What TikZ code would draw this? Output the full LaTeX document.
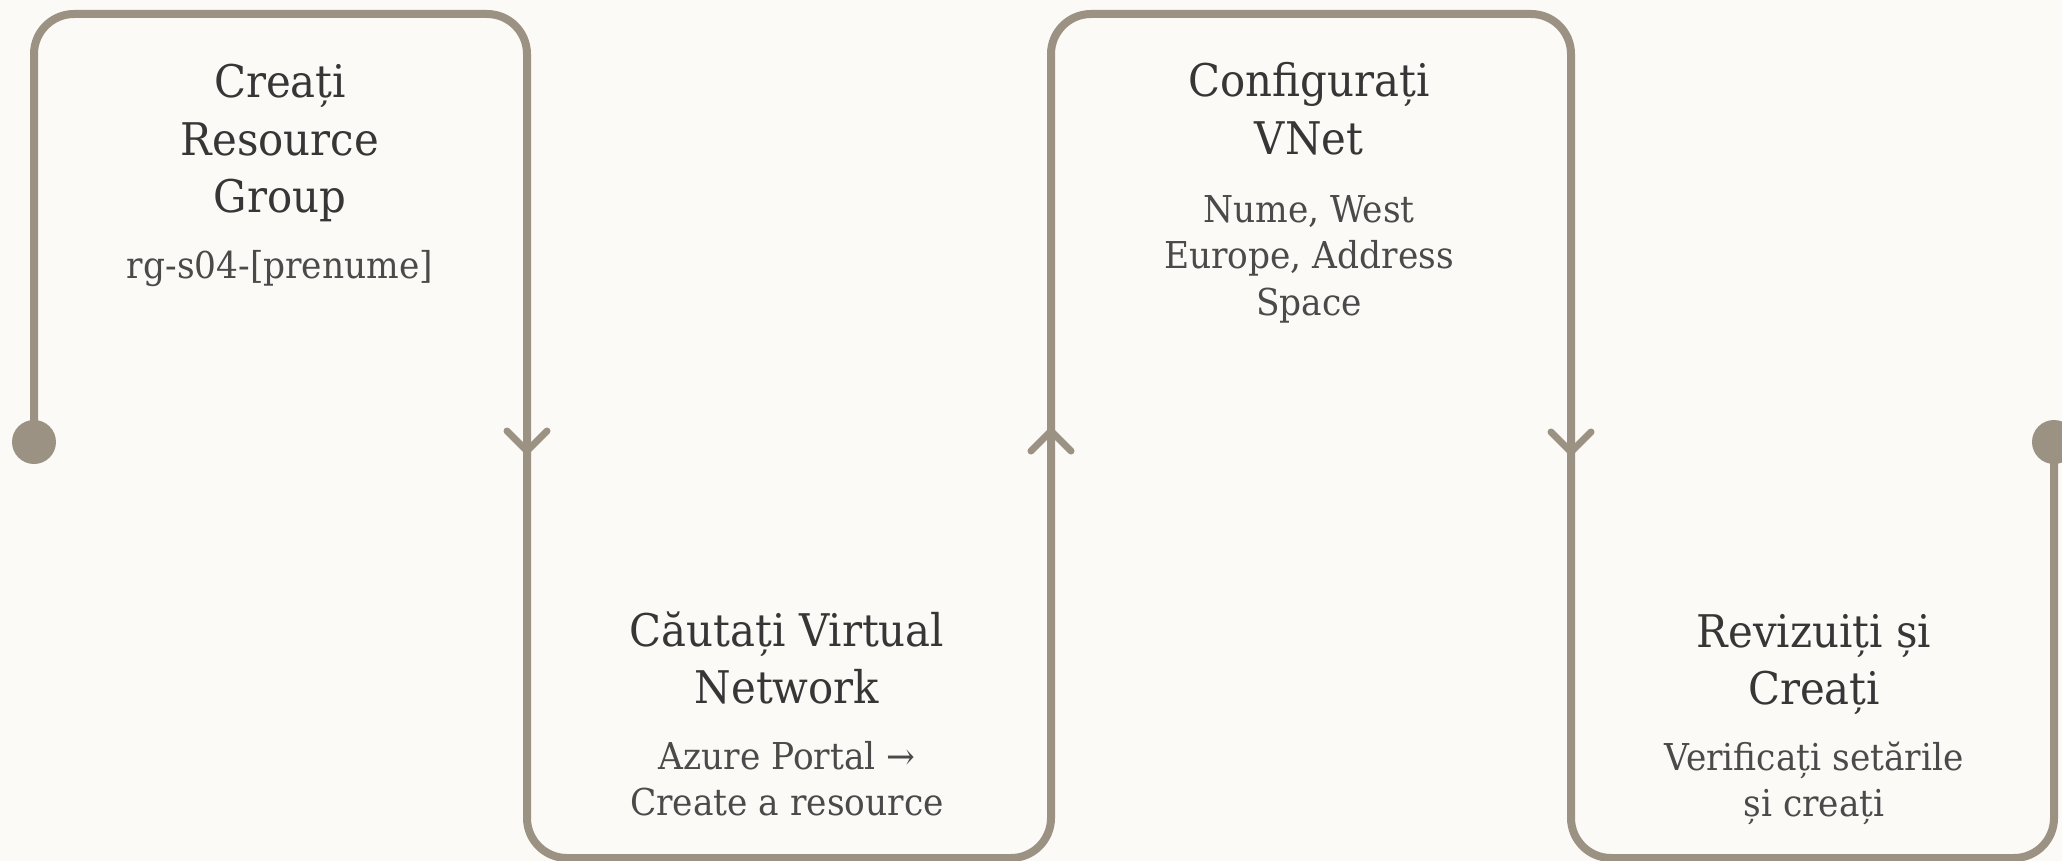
\documentclass[tikz,border=0pt]{standalone}
\usepackage{fontspec}
\setmainfont{DejaVu Serif}[FakeStretch=0.93]
\definecolor{trackc}{HTML}{9C9283}
\definecolor{paper}{HTML}{FBFAF7}
\definecolor{headink}{HTML}{363636}
\definecolor{bodyink}{HTML}{4A4A4A}
\tikzset{
  track/.style={draw=trackc, line width=8pt, rounded corners=40pt},
  chev/.style={draw=trackc, line width=7pt, line cap=round},
  enddot/.style={fill=trackc},
  % multi-line nodes: the base anchor sits on the last line
  head/.style={font=\fontsize{45}{57.5}\selectfont, text=headink, align=center, inner sep=0pt, anchor=base},
  body/.style={font=\fontsize{37}{46.5}\selectfont, text=bodyink, align=center, inner sep=0pt, anchor=base},
}
\begin{document}
\begin{tikzpicture}[x=1pt, y=-1pt]
  % page
  \fill[paper] (0,0) rectangle (2062,861);
  \useasboundingbox (0,0) rectangle (2062,861);

  % turning points of the serpentine track
  \coordinate (start) at (34,442);
  \coordinate (c1) at (34,14);
  \coordinate (c2) at (527,14);
  \coordinate (c3) at (527,858);
  \coordinate (c4) at (1051,858);
  \coordinate (c5) at (1051,14);
  \coordinate (c6) at (1571,14);
  \coordinate (c7) at (1571,858);
  \coordinate (c8) at (2054,858);
  \coordinate (finish) at (2054,442);

  \draw[track] (start) -- (c1) -- (c2) -- (c3) -- (c4) -- (c5) -- (c6) -- (c7) -- (c8) -- (finish);

  \fill[enddot] (start) circle[radius=22];
  \fill[enddot] (finish) circle[radius=22];

  % direction marks on the vertical runs
  \coordinate (d1) at (527,451);
  \coordinate (d2) at (1051,431);
  \coordinate (d3) at (1571,452);
  \draw[chev] ([shift={(-20,-20)}]d1) -- (d1) -- ([shift={(20,-20)}]d1);
  \draw[chev] ([shift={(-20,20)}]d2) -- (d2) -- ([shift={(20,20)}]d2);
  \draw[chev] ([shift={(-20,-20)}]d3) -- (d3) -- ([shift={(20,-20)}]d3);

  % step 1
  \node[head] (h1) at (280,213) {Creați\\Resource\\Group};
  \node[body] (b1) at (280,279) {rg-s04-[prenume]};
  % step 2
  \node[head] (h2) at (787,703.5) {Căutați Virtual\\Network};
  \node[body] (b2) at (787,815.5) {Azure Portal →\\Create a resource};
  % step 3
  \node[head] (h3) at (1309,154.5) {Configurați\\VNet};
  \node[body] (b3) at (1309,315) {Nume, West\\Europe, Address\\Space};
  % step 4
  \node[head] (h4) at (1814,704.5) {Revizuiți și\\Creați};
  \node[body] (b4) at (1814,816.5) {Verificați setările\\și creați};
\end{tikzpicture}
\end{document}
